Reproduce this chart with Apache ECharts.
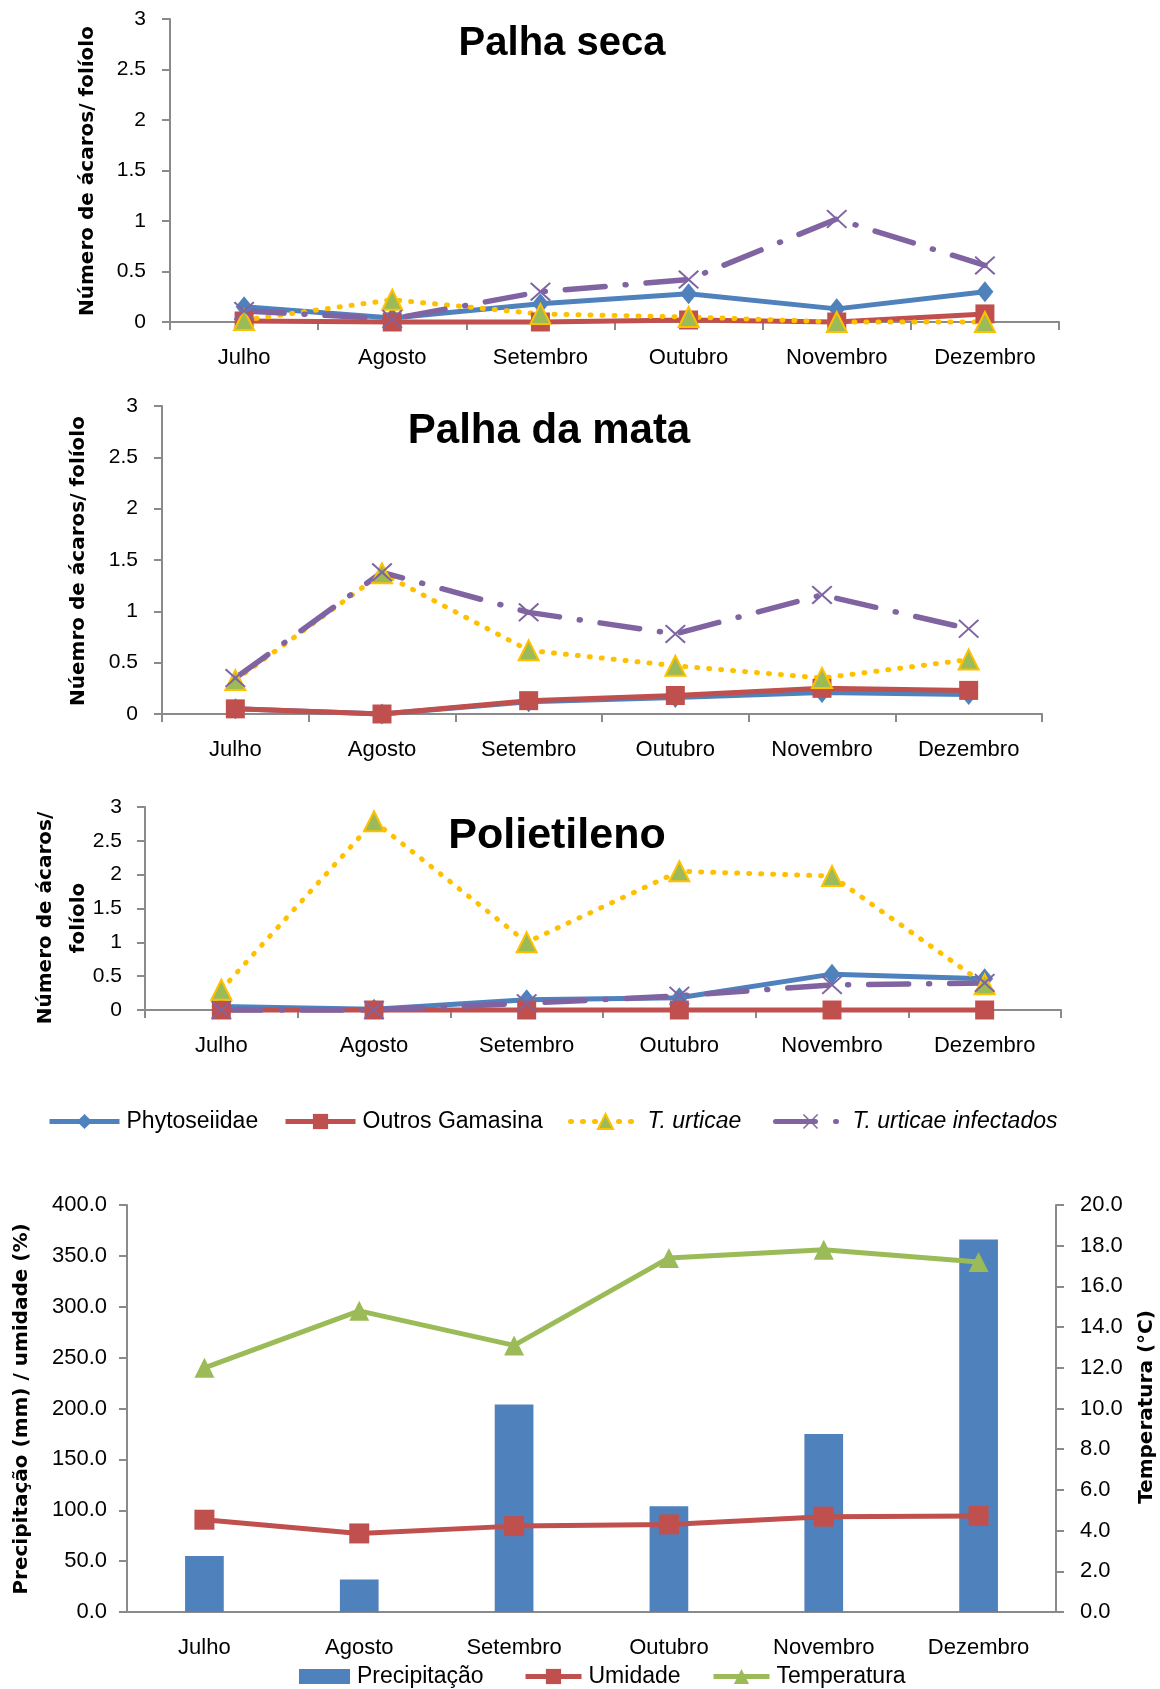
<!DOCTYPE html>
<html>
<head>
<meta charset="utf-8">
<script src="https://cdn.jsdelivr.net/npm/echarts@6/dist/echarts.min.js"></script>
<style>
  html, body { margin: 0; padding: 0; background: #fff; }
  #chart { width: 1160px; height: 1689px; }
</style>
</head>
<body>
<div id="chart"></div>
<script>
// Months sampled
const months = ['Julho', 'Agosto', 'Setembro', 'Outubro', 'Novembro', 'Dezembro'];
const miteNames = ['Phytoseiidae', 'Outros Gamasina', 'T. urticae', 'T. urticae infectados'];
const mitePanelTitles = ['Palha seca', 'Palha da mata', 'Polietileno'];

// Mites per leaflet – Palha seca
const secaPhyto = [0.15, 0.04, 0.18, 0.28, 0.13, 0.30];
const secaGamasina = [0.01, 0.00, 0.00, 0.02, 0.00, 0.08];
const secaUrticae = [0.02, 0.22, 0.08, 0.05, 0.00, 0.00];
const secaInfect = [0.11, 0.03, 0.30, 0.42, 1.02, 0.56];

// Mites per leaflet – Palha da mata
const mataPhyto = [0.05, 0.00, 0.12, 0.16, 0.21, 0.19];
const mataGamasina = [0.05, 0.00, 0.13, 0.18, 0.25, 0.23];
const mataUrticae = [0.33, 1.37, 0.62, 0.47, 0.35, 0.53];
const mataInfect = [0.35, 1.38, 0.99, 0.78, 1.16, 0.83];

// Mites per leaflet – Polietileno
const poliPhyto = [0.05, 0.01, 0.15, 0.18, 0.53, 0.46];
const poliGamasina = [0.00, 0.00, 0.00, 0.00, 0.00, 0.00];
const poliUrticae = [0.30, 2.79, 1.00, 2.05, 1.98, 0.38];
const poliInfect = [0.00, 0.00, 0.10, 0.21, 0.37, 0.40];

// Weather
const weatherNames = ['Precipitação', 'Umidade', 'Temperatura'];
const precipitacao = [55, 32, 204, 104, 175, 366];
const umidade = [90.7, 77.2, 84.4, 86.1, 93.7, 94.4];
const temperatura = [12.0, 14.8, 13.1, 17.4, 17.8, 17.2];

const BLUE = '#4F81BD', RED = '#C0504D', YELLOW = '#FFC000', GREEN = '#9BBB59', PURPLE = '#8064A2';
const AXIS_GRAY = '#8A8A8A';
const LABEL_FONT = '"Liberation Sans", Arial, sans-serif';
const NAME_FONT = 'bold 20px "DejaVu Sans", Verdana, sans-serif';
const X_SYMBOL = 'path://M0,7L7,0L50,43L93,0L100,7L57,50L100,93L93,100L50,57L7,100L0,93L43,50Z';

const grids = [
  { left: 170, top: 19, width: 889, height: 303 },
  { left: 162, top: 406, width: 880, height: 308 },
  { left: 145, top: 807, width: 916, height: 203 },
  { left: 127, top: 1205, width: 929, height: 407 }
];

function catAxis(gridIndex, showTicks, margin) {
  return {
    type: 'category', gridIndex, data: months, boundaryGap: true,
    axisLine: { lineStyle: { color: AXIS_GRAY, width: 2 } },
    axisTick: { show: showTicks, length: 8, lineStyle: { color: AXIS_GRAY, width: 2 } },
    axisLabel: { color: '#000', fontFamily: LABEL_FONT, fontSize: 22, margin },
    splitLine: { show: false }
  };
}

function mitesYAxis(gridIndex, margin) {
  return {
    type: 'value', gridIndex, min: 0, max: 3, interval: 0.5,
    axisLine: { show: true, lineStyle: { color: AXIS_GRAY, width: 2 } },
    axisTick: { show: true, length: 8, lineStyle: { color: AXIS_GRAY, width: 2 } },
    axisLabel: { color: '#000', fontFamily: LABEL_FONT, fontSize: 21, margin },
    splitLine: { show: false }
  };
}

function mitesSeries(idx, phyto, gamasina, urticae, infect) {
  const base = { type: 'line', xAxisIndex: idx, yAxisIndex: idx, clip: false, showSymbol: true };
  return [
    Object.assign({}, base, {
      name: miteNames[0], data: phyto, symbol: 'diamond', symbolSize: [17, 21],
      itemStyle: { color: BLUE }, lineStyle: { color: BLUE, width: 5 }
    }),
    Object.assign({}, base, {
      name: miteNames[1], data: gamasina, symbol: 'rect', symbolSize: 19,
      itemStyle: { color: RED }, lineStyle: { color: RED, width: 5 }
    }),
    Object.assign({}, base, {
      name: miteNames[2], data: urticae, symbol: 'triangle', symbolSize: [20, 20],
      itemStyle: { color: GREEN, borderColor: YELLOW, borderWidth: 2 },
      lineStyle: { color: YELLOW, width: 5, type: [1, 11], cap: 'round' }
    }),
    Object.assign({}, base, {
      name: miteNames[3], data: infect, symbol: X_SYMBOL, symbolSize: [21, 19],
      itemStyle: { color: PURPLE },
      lineStyle: { color: PURPLE, width: 5.5, type: [40, 20, 1, 20], cap: 'round' }
    })
  ];
}

function legendItem(name, left, top, itemWidth, italic, icon) {
  const item = {
    data: [name], left, top, padding: 0, itemWidth, itemHeight: 19, itemGap: 0,
    selectedMode: false,
    lineStyle: { width: 5 },
    textStyle: {
      color: '#000', fontFamily: LABEL_FONT, fontSize: 23,
      fontStyle: italic ? 'italic' : 'normal', padding: [0, 0, 0, 2]
    }
  };
  if (icon) { item.icon = icon; item.itemHeight = 15; }
  return item;
}

const titleFonts = [
  'bold 40px "Liberation Sans", Arial, sans-serif',
  'bold 42px "Liberation Sans", Arial, sans-serif',
  'bold 43px "Liberation Sans", Arial, sans-serif'
];
const titlePos = [[562, 44], [549, 431], [557, 836]];

const graphics = [];
mitePanelTitles.forEach((t, i) => {
  graphics.push({
    type: 'text', x: titlePos[i][0], y: titlePos[i][1],
    style: { text: t, font: titleFonts[i], fill: '#000', textAlign: 'center', textVerticalAlign: 'middle' }
  });
});
// Rotated axis titles
function vText(text, x, y) {
  return {
    type: 'text', x, y, rotation: Math.PI / 2,
    style: { text, font: NAME_FONT, fill: '#000', textAlign: 'center', textVerticalAlign: 'middle' }
  };
}
graphics.push(vText('Número de ácaros/ folíolo', 88, 171));
graphics.push(vText('Núemro de ácaros/ folíolo', 79, 561));
graphics.push(vText('Número de ácaros/', 46, 918));
graphics.push(vText('folíolo', 79, 918));
graphics.push(vText('Precipitação (mm) / umidade (%)', 22, 1409));
graphics.push(vText('Temperatura (°C)', 1147, 1407));

const option = {
  backgroundColor: '#fff',
  animation: false,
  grid: grids,
  xAxis: [catAxis(0, true, 25), catAxis(1, true, 25), catAxis(2, true, 25), catAxis(3, false, 25)],
  yAxis: [
    mitesYAxis(0, 24), mitesYAxis(1, 24), mitesYAxis(2, 23),
    {
      type: 'value', gridIndex: 3, min: 0, max: 400, interval: 50,
      axisLine: { show: true, lineStyle: { color: AXIS_GRAY, width: 2 } },
      axisTick: { show: true, length: 8, lineStyle: { color: AXIS_GRAY, width: 2 } },
      axisLabel: { color: '#000', fontFamily: LABEL_FONT, fontSize: 22, margin: 20, formatter: v => v.toFixed(1) },
      splitLine: { show: false }
    },
    {
      type: 'value', gridIndex: 3, position: 'right', min: 0, max: 20, interval: 2,
      axisLine: { show: true, lineStyle: { color: AXIS_GRAY, width: 2 } },
      axisTick: { show: true, length: 8, lineStyle: { color: AXIS_GRAY, width: 2 } },
      axisLabel: { color: '#000', fontFamily: LABEL_FONT, fontSize: 22, margin: 24, formatter: v => v.toFixed(1) },
      splitLine: { show: false }
    }
  ],
  legend: [
    legendItem(miteNames[0], 47, 1110, 70, false),
    legendItem(miteNames[1], 283, 1110, 70, false),
    legendItem(miteNames[2], 568, 1110, 70, true),
    legendItem(miteNames[3], 773, 1110, 70, true),
    legendItem(weatherNames[0], 299, 1665, 51, false, 'rect'),
    legendItem(weatherNames[1], 523, 1665, 56, false),
    legendItem(weatherNames[2], 711, 1665, 56, false)
  ],
  series: [
    ...mitesSeries(0, secaPhyto, secaGamasina, secaUrticae, secaInfect),
    ...mitesSeries(1, mataPhyto, mataGamasina, mataUrticae, mataInfect),
    ...mitesSeries(2, poliPhyto, poliGamasina, poliUrticae, poliInfect),
    {
      name: weatherNames[0], type: 'bar', xAxisIndex: 3, yAxisIndex: 3,
      data: precipitacao, barWidth: '25%', itemStyle: { color: BLUE }
    },
    {
      name: weatherNames[1], type: 'line', xAxisIndex: 3, yAxisIndex: 3, clip: false,
      data: umidade, symbol: 'rect', symbolSize: 20,
      itemStyle: { color: RED }, lineStyle: { color: RED, width: 5 }
    },
    {
      name: weatherNames[2], type: 'line', xAxisIndex: 3, yAxisIndex: 4, clip: false,
      data: temperatura, symbol: 'triangle', symbolSize: [20, 20],
      itemStyle: { color: GREEN }, lineStyle: { color: GREEN, width: 5 }
    }
  ],
  graphic: graphics
};

const chart = echarts.init(document.getElementById('chart'), null, { renderer: 'canvas' });
chart.setOption(option);
</script>
</body>
</html>
